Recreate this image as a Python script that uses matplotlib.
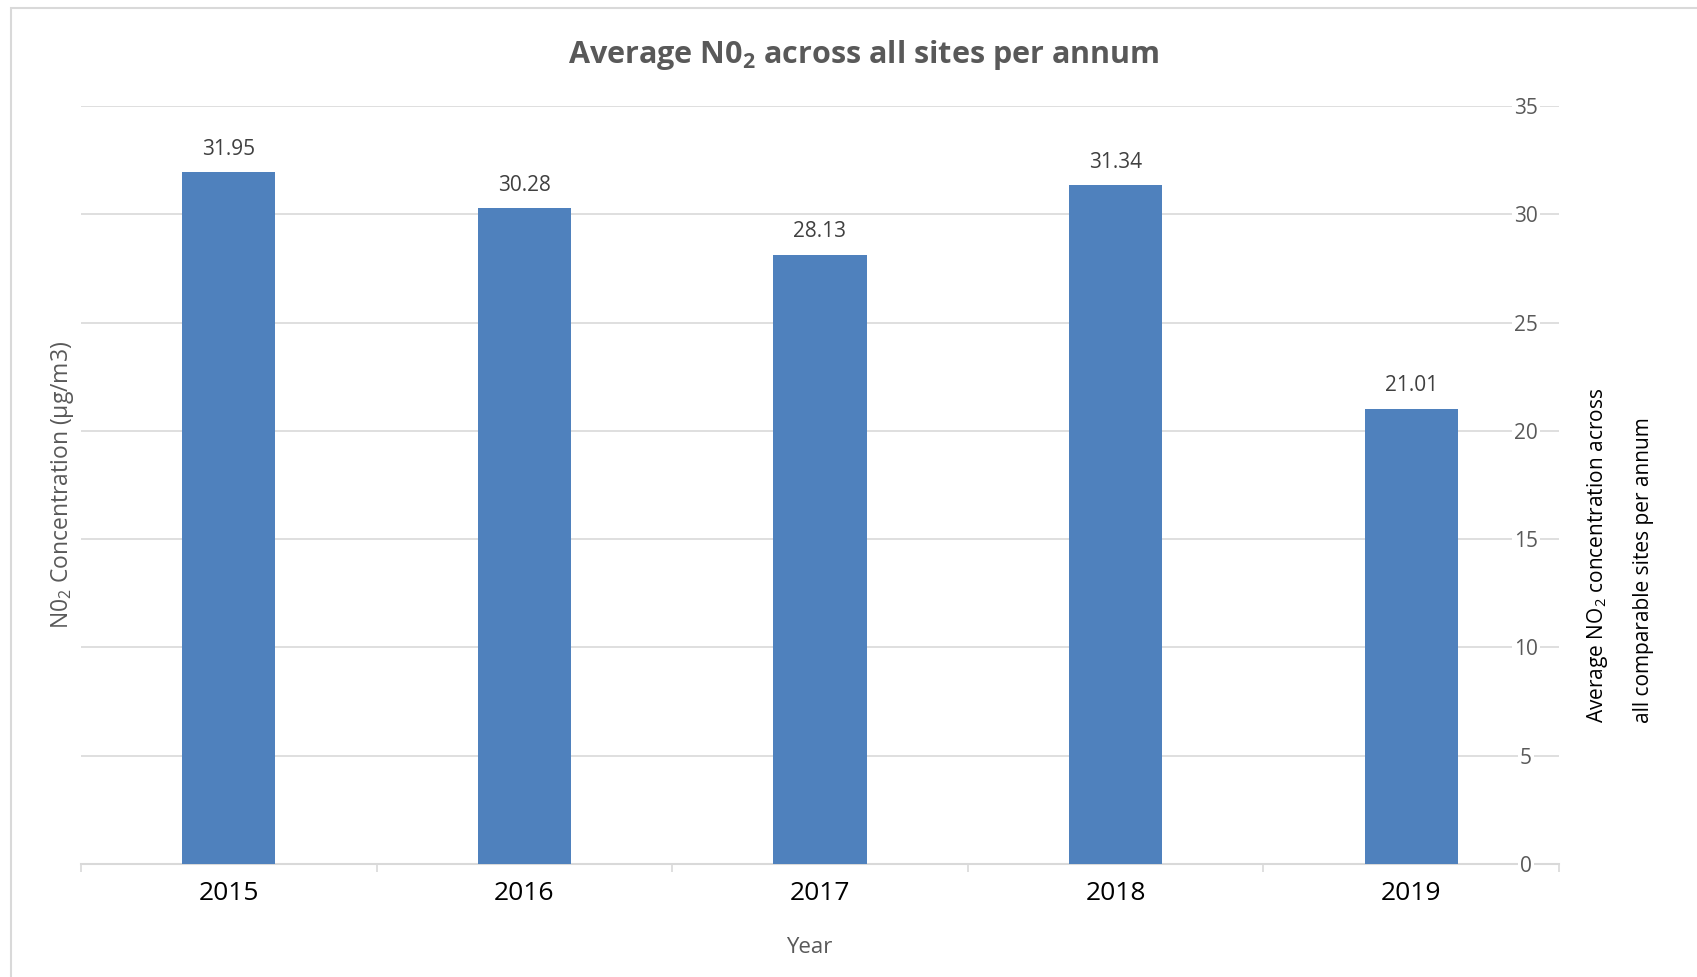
import numpy as np
import matplotlib.pyplot as plt
from matplotlib.patches import Rectangle

# Data
years = ['2015', '2016', '2017', '2018', '2019']
no2_avg = [31.95, 30.28, 28.13, 31.34, 21.01]
y_ticks = [0, 5, 10, 15, 20, 25, 30, 35]

bar_color = '#4F81BD'
grid_color = '#D9D9D9'
grey_text = '#595959'

plt.rcParams['font.family'] = ['Open Sans', 'DejaVu Sans']
plt.rcParams['mathtext.fontset'] = 'custom'
plt.rcParams['mathtext.rm'] = 'Open Sans'
plt.rcParams['mathtext.bf'] = 'Open Sans:bold'

fig = plt.figure(figsize=(16.97, 9.77), dpi=100)
ax = fig.add_axes([0.0477, 0.1157, 0.8710, 0.7758])

# chart area border (top and left visible)
fig.add_artist(Rectangle((11 / 1697, -0.05), 1.2, 1 - 8 / 977 + 0.05,
                         transform=fig.transFigure, fill=False,
                         edgecolor=grid_color, linewidth=1.5))

x = np.arange(len(years))
bars = ax.bar(x, no2_avg, width=0.315, color=bar_color, zorder=3)

for xi, v in zip(x, no2_avg):
    ax.annotate(f'{v:.2f}', (xi, v), xytext=(0, 9), textcoords='offset points',
                ha='center', va='bottom', fontsize=15, color='#404040')

ax.set_xlim(-0.5, len(years) - 0.5)
ax.set_ylim(0, 35)

# x axis
ax.set_xticks(x)
ax.set_xticklabels(years, fontsize=19, color='black')
ax.set_xticks(np.arange(-0.5, len(years)), minor=True)
ax.tick_params(axis='x', which='major', length=0, pad=12)
ax.tick_params(axis='x', which='minor', length=6, width=1.2, color=grid_color)
ax.set_xlabel('Year', fontsize=16, color=grey_text)
ax.xaxis.set_label_coords(0.493, -0.097)

# y axis: labels on the right, sitting inside the plot area
ax.yaxis.tick_right()
ax.set_yticks(y_ticks)
ax.tick_params(axis='y', length=0, pad=-24, labelsize=15, labelcolor=grey_text)
for t in ax.get_yticklabels():
    t.set_horizontalalignment('center')
    t.set_bbox(dict(facecolor='white', edgecolor='none', pad=1.5))
ax.grid(axis='y', color=grid_color, linewidth=1.2, zorder=0)
ax.set_axisbelow(True)

for side in ['top', 'left', 'right']:
    ax.spines[side].set_visible(False)
ax.spines['bottom'].set_color(grid_color)
ax.spines['bottom'].set_linewidth(1.5)
ax.spines['bottom'].set_zorder(0.4)

# titles
fig.text(864 / 1697, 1 - 55 / 977, r'Average N0$_\mathbf{2}$ across all sites per annum',
         ha='center', va='center', fontsize=22, fontweight='bold', color=grey_text)
fig.text(63 / 1697, 1 - 485 / 977, r'N0$_2$ Concentration (µg/m3)',
         rotation=90, ha='center', va='center', fontsize=16.5, color=grey_text)
fig.text(1597 / 1697, 1 - 723 / 977, r'Average NO$_2$ concentration across',
         rotation=90, ha='center', va='bottom', fontsize=15, color='black')
fig.text(1643 / 1697, 1 - 723 / 977, 'all comparable sites per annum',
         rotation=90, ha='center', va='bottom', fontsize=15, color='black')

fig.savefig('out.png', dpi=100)
